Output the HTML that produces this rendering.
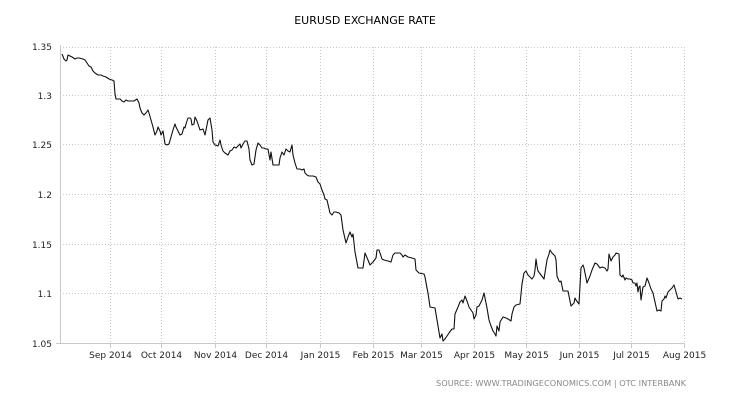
<!DOCTYPE html>
<html><head><meta charset="utf-8"><style>
html,body{margin:0;padding:0;background:#fff;}
svg{display:block;font-family:"DejaVu Sans","Liberation Sans",sans-serif;}
</style></head><body>
<svg width="730" height="400" viewBox="0 0 730 400" xmlns="http://www.w3.org/2000/svg">
<text x="365" y="24" text-anchor="middle" font-size="11" fill="#000">EURUSD EXCHANGE RATE</text>
<g stroke="#c8c8c8" stroke-width="1" stroke-dasharray="1,2">
<line x1="60" y1="47.5" x2="685" y2="47.5"/>
<line x1="60" y1="95.5" x2="685" y2="95.5"/>
<line x1="60" y1="144.5" x2="685" y2="144.5"/>
<line x1="60" y1="194.5" x2="685" y2="194.5"/>
<line x1="60" y1="244.5" x2="685" y2="244.5"/>
<line x1="60" y1="293.5" x2="685" y2="293.5"/>
<line x1="110.5" y1="47" x2="110.5" y2="343"/>
<line x1="161.5" y1="47" x2="161.5" y2="343"/>
<line x1="215.5" y1="47" x2="215.5" y2="343"/>
<line x1="266.5" y1="47" x2="266.5" y2="343"/>
<line x1="320.5" y1="47" x2="320.5" y2="343"/>
<line x1="373.5" y1="47" x2="373.5" y2="343"/>
<line x1="421.5" y1="47" x2="421.5" y2="343"/>
<line x1="474.5" y1="47" x2="474.5" y2="343"/>
<line x1="526.5" y1="47" x2="526.5" y2="343"/>
<line x1="579.5" y1="47" x2="579.5" y2="343"/>
<line x1="631.5" y1="47" x2="631.5" y2="343"/>
<line x1="684.5" y1="47" x2="684.5" y2="343"/>
</g>
<g stroke="#c8c8c8" stroke-width="1">
<line x1="60.5" y1="45" x2="60.5" y2="343.5"/>
<line x1="56" y1="343.5" x2="685" y2="343.5"/>
<line x1="110.5" y1="343" x2="110.5" y2="348"/>
<line x1="161.5" y1="343" x2="161.5" y2="348"/>
<line x1="215.5" y1="343" x2="215.5" y2="348"/>
<line x1="266.5" y1="343" x2="266.5" y2="348"/>
<line x1="320.5" y1="343" x2="320.5" y2="348"/>
<line x1="373.5" y1="343" x2="373.5" y2="348"/>
<line x1="421.5" y1="343" x2="421.5" y2="348"/>
<line x1="474.5" y1="343" x2="474.5" y2="348"/>
<line x1="526.5" y1="343" x2="526.5" y2="348"/>
<line x1="579.5" y1="343" x2="579.5" y2="348"/>
<line x1="631.5" y1="343" x2="631.5" y2="348"/>
<line x1="684.5" y1="343" x2="684.5" y2="348"/>
</g>
<g font-size="9" fill="#222" text-anchor="end">
<text x="52" y="50">1.35</text>
<text x="52" y="99">1.3</text>
<text x="52" y="148">1.25</text>
<text x="52" y="198">1.2</text>
<text x="52" y="248">1.15</text>
<text x="52" y="297">1.1</text>
<text x="52" y="347">1.05</text>
</g>
<g font-size="9" fill="#222" text-anchor="middle">
<text x="110.5" y="358">Sep 2014</text>
<text x="161.5" y="358">Oct 2014</text>
<text x="215.5" y="358">Nov 2014</text>
<text x="266.5" y="358">Dec 2014</text>
<text x="320.5" y="358">Jan 2015</text>
<text x="373.5" y="358">Feb 2015</text>
<text x="421.5" y="358">Mar 2015</text>
<text x="474.5" y="358">Apr 2015</text>
<text x="526.5" y="358">May 2015</text>
<text x="579.5" y="358">Jun 2015</text>
<text x="631.5" y="358">Jul 2015</text>
<text x="684.5" y="358">Aug 2015</text>
</g>
<text x="436" y="386" font-size="8" fill="#888" textLength="250" lengthAdjust="spacingAndGlyphs">SOURCE:  WWW.TRADINGECONOMICS.COM  |  OTC  INTERBANK</text>
<polyline fill="none" stroke="#111" stroke-width="1.1" stroke-linejoin="round" points="62,54 64,59 66,61 67,60 68,55 72,57 75,59 77,58 79,58 83,59 85,60 87,63 89,66 91,67 93,71 95,73 98,75 101,75 103,76 106,77 109,79 112,80 114,81 115,94 116,99 120,99 122,101 124,102 126,100 128,101 130,101 134,101 137,99 139,103 140,108 142,113 144,115 146,113 148,110 149,113 151,120 153,127 155,135 157,131 158,127 160,131 161,135 163,131 165,144 167,145 169,144 171,137 173,130 175,124 176,127 178,131 180,135 182,134 184,127 185,128 186,124 188,118 190,118 191,119 192,125 194,124 195,117 197,121 199,127 200,130 203,129 205,135 206,130 208,120 210,118 212,130 213,142 215,145 218,146 220,140 221,145 223,151 225,153 228,155 230,151 232,150 234,147 236,148 238,146 240,144 241,148 243,144 245,141 247,141 249,149 250,160 252,165 254,164 256,150 258,143 260,145 262,148 264,148 266,149 268,149 270,160 271,152 273,165 275,165 277,165 279,165 280,158 282,152 284,155 286,149 288,151 290,152 292,145 293,155 295,163 297,169 300,169 302,170 304,169 305,173 307,175 309,176 313,176 316,177 318,182 320,184 322,190 324,195 325,199 327,200 330,213 332,215 334,212 336,212 339,213 341,215 343,230 346,243 348,237 350,232 352,237 353,234 355,252 358,268 361,268 363,268 365,253 368,260 370,265 373,262 376,258 377,250 379,250 382,259 384,260 388,261 391,262 393,255 395,253 400,253 402,255 403,257 405,255 408,257 412,258 415,259 416,270 419,273 424,274 425,277 427,288 428,293 430,307 435,308 437,320 439,332 440,338 442,334 443,341 445,339 449,333 452,329 454,329 455,314 458,307 460,302 462,300 463,303 465,296 467,301 469,307 471,310 473,313 474,319 476,315 477,307 479,306 482,300 484,293 487,308 489,320 491,326 493,331 495,334 496,336 497,326 499,331 500,322 503,317 506,318 508,319 511,321 512,314 514,307 516,305 520,304 522,284 524,273 526,271 528,275 532,279 534,276 535,270 536,259 537,266 538,271 541,275 544,279 547,260 549,254 550,250 552,253 555,256 556,260 557,276 559,281 560,282 561,281 563,291 568,291 570,301 571,306 574,303 575,298 576,300 579,304 581,268 583,265 584,268 587,283 590,276 592,270 595,263 597,264 600,268 602,267 605,268 607,271 608,269 609,254 611,261 613,257 615,255 616,253 619,254 620,275 622,277 623,275 625,280 626,278 628,279 630,279 632,280 633,283 635,283 636,286 637,283 638,292 639,287 640,286 641,300 643,287 645,286 647,278 649,283 651,289 653,293 655,302 657,311 659,310 661,311 662,301 664,299 665,296 666,298 668,292 670,290 672,288 674,285 676,292 678,299 680,298 682,299"/>
</svg>
</body></html>
